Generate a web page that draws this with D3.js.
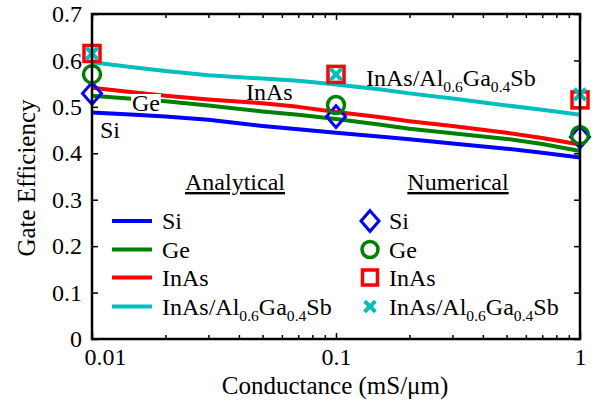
<!DOCTYPE html>
<html lang="en">
<head>
  <meta charset="UTF-8">
  <title>Gate Efficiency vs Conductance</title>
  <script src="https://d3js.org/d3.v7.min.js"></script>
  <style>
    body { margin: 0; background: #fff; }
    text { font-family: "Liberation Serif", "Times New Roman", "DejaVu Serif", serif; fill: #000; }
    .line { fill: none; stroke-width: 4px; stroke-linejoin: round; }
    .tick text { font-size: 24px; }
  </style>
</head>
<body>
  <svg width="598" height="405"></svg>

  <script>
    // analytical curves
    const conductance = [0.01, 0.015, 0.02, 0.03, 0.05, 0.07, 0.1, 0.15, 0.2, 0.3, 0.5, 0.7, 1];
    const siAnalytical   = [0.488, 0.483, 0.479, 0.472, 0.459, 0.452, 0.444, 0.436, 0.430, 0.421, 0.410, 0.401, 0.391];
    const geAnalytical   = [0.524, 0.517, 0.512, 0.503, 0.490, 0.483, 0.474, 0.462, 0.453, 0.443, 0.431, 0.420, 0.405];
    const inasAnalytical = [0.541, 0.531, 0.524, 0.516, 0.508, 0.500, 0.489, 0.478, 0.469, 0.459, 0.444, 0.433, 0.419];
    const hetAnalytical  = [0.596, 0.585, 0.577, 0.568, 0.561, 0.556, 0.548, 0.538, 0.529, 0.518, 0.503, 0.494, 0.483];

    // numerical points
    const numConductance = [0.01, 0.1, 1];
    const siNumerical   = [0.529, 0.479, 0.435];
    const geNumerical   = [0.570, 0.504, 0.439];
    const inasNumerical = [0.615, 0.570, 0.515];
    const hetNumerical  = [0.615, 0.570, 0.527];

    const xMajor = [0.01, 0.1, 1];
    const xMinor = [0.02, 0.03, 0.04, 0.05, 0.06, 0.07, 0.08, 0.09, 0.2, 0.3, 0.4, 0.5, 0.6, 0.7, 0.8, 0.9];
    const yTicks = [0, 0.1, 0.2, 0.3, 0.4, 0.5, 0.6, 0.7];

    // label parts: [text, isSubscript]
    const labels = [
      [["Si", false]],
      [["Ge", false]],
      [["InAs", false]],
      [["InAs/Al", false], ["0.6", true], ["Ga", false], ["0.4", true], ["Sb", false]]
    ];
    const colors = ["#0000ff", "#008000", "#ff0000", "#00bfbf"];
    const symbols = ["diamond", "circle", "square", "cross"];

    const svg = d3.select("svg");
    const margin = {top: 14, right: 18, bottom: 66, left: 92};
    const W = +svg.attr("width"), H = +svg.attr("height");

    const x = d3.scaleLog().domain([0.01, 1]).range([margin.left, W - margin.right]);
    const y = d3.scaleLinear().domain([0, 0.7]).range([H - margin.bottom, margin.top]);

    function addLabel(sel, parts, size) {
      parts.forEach(([t, sub]) => {
        const ts = sel.append("tspan").text(t);
        if (sub) ts.attr("font-size", size * 0.65).attr("dy", 6);
        else if (sel.selectAll("tspan").size() > 1) ts.attr("dy", -6);
      });
      return sel;
    }

    function drawMarker(g, type, cx, cy, color, s) {
      if (type === "diamond") {
        g.append("path")
          .attr("d", `M${cx},${cy - s * 1.15}L${cx + s},${cy}L${cx},${cy + s * 1.15}L${cx - s},${cy}Z`)
          .attr("fill", "none").attr("stroke", color).attr("stroke-width", 3);
      } else if (type === "circle") {
        g.append("circle").attr("cx", cx).attr("cy", cy).attr("r", s - 1)
          .attr("fill", "none").attr("stroke", color).attr("stroke-width", 3.5);
      } else if (type === "square") {
        g.append("rect").attr("x", cx - s + 1.5).attr("y", cy - s + 1.5)
          .attr("width", 2 * s - 3).attr("height", 2 * s - 3)
          .attr("fill", "none").attr("stroke", color).attr("stroke-width", 3.5);
      } else {
        const r = s * 0.6;
        g.append("path")
          .attr("d", `M${cx - r},${cy - r}L${cx + r},${cy + r}M${cx - r},${cy + r}L${cx + r},${cy - r}`)
          .attr("stroke", color).attr("stroke-width", 4);
      }
    }

    // axes (inward ticks)
    const bottom = svg.append("g").attr("transform", `translate(0,${y(0)})`)
      .call(d3.axisBottom(x).tickValues(xMajor).tickSize(-6).tickPadding(9)
        .tickFormat(d => d === 1 ? "1" : String(d)));
    bottom.selectAll(".tick text").filter(d => d === 0.01).attr("dx", 13);
    svg.append("g").attr("transform", `translate(0,${y(0)})`)
      .call(d3.axisBottom(x).tickValues(xMinor).tickSize(-4).tickFormat(""));
    svg.append("g").attr("transform", `translate(0,${y(0.7)})`)
      .call(d3.axisTop(x).tickValues(xMajor).tickSize(-6).tickFormat(""));
    svg.append("g").attr("transform", `translate(0,${y(0.7)})`)
      .call(d3.axisTop(x).tickValues(xMinor).tickSize(-4).tickFormat(""));
    svg.append("g").attr("transform", `translate(${x(0.01)},0)`)
      .call(d3.axisLeft(y).tickValues(yTicks).tickSize(-6).tickPadding(10)
        .tickFormat(d => d === 0 ? "0" : d3.format(".1f")(d)));
    svg.append("g").attr("transform", `translate(${x(1)},0)`)
      .call(d3.axisRight(y).tickValues(yTicks).tickSize(-6).tickFormat(""));
    svg.selectAll(".domain").remove();
    svg.selectAll(".tick line").attr("stroke", "#000").attr("stroke-width", 1.5);

    // analytical lines
    const analytical = [siAnalytical, geAnalytical, inasAnalytical, hetAnalytical];
    const line = d3.line().x((d, i) => x(conductance[i])).y(d => y(d));
    const plot = svg.append("g");
    analytical.forEach((vals, k) => {
      plot.append("path").attr("class", "line").attr("d", line(vals)).attr("stroke", colors[k]);
    });

    // in-plot annotations
    const ann = svg.append("g").attr("font-size", 24);
    ann.append("text").attr("x", 100).attr("y", 138).text("Si");
    const geLab = ann.append("text").attr("x", 132).attr("y", 111).text("Ge");
    const bb = geLab.node().getBBox();
    ann.insert("rect", "text:nth-of-type(2)")
      .attr("x", bb.x - 1).attr("y", bb.y + 4).attr("width", bb.width + 2).attr("height", bb.height - 8)
      .attr("fill", "#fff");
    ann.append("text").attr("x", 246).attr("y", 100).text("InAs");
    addLabel(ann.append("text").attr("x", 366).attr("y", 86), labels[3], 24);

    // numerical markers
    const numerical = [siNumerical, geNumerical, inasNumerical, hetNumerical];
    const marks = svg.append("g");
    numerical.forEach((vals, k) => {
      vals.forEach((v, i) => drawMarker(marks, symbols[k], x(numConductance[i]), y(v), colors[k], 9.5));
    });

    // frame
    svg.append("rect")
      .attr("x", x(0.01)).attr("y", y(0.7))
      .attr("width", x(1) - x(0.01)).attr("height", y(0) - y(0.7))
      .attr("fill", "none").attr("stroke", "#000").attr("stroke-width", 2.5);

    // legend
    const leg = svg.append("g").attr("font-size", 24);
    leg.append("text").attr("x", 235).attr("y", 190).attr("text-anchor", "middle")
      .attr("text-decoration", "underline").text("Analytical");
    leg.append("text").attr("x", 458).attr("y", 190).attr("text-anchor", "middle")
      .attr("text-decoration", "underline").text("Numerical");
    const rowY = [221, 249.5, 277.5, 306.5];
    labels.forEach((parts, k) => {
      leg.append("line").attr("x1", 112).attr("x2", 152).attr("y1", rowY[k]).attr("y2", rowY[k])
        .attr("stroke", colors[k]).attr("stroke-width", 4);
      addLabel(leg.append("text").attr("x", 162).attr("y", rowY[k] + 8), parts, 24);
      drawMarker(leg, symbols[k], 370, rowY[k], colors[k], 9);
      addLabel(leg.append("text").attr("x", 389).attr("y", rowY[k] + 8), parts, 24);
    });

    // axis titles
    svg.append("text").attr("x", 335).attr("y", 394).attr("text-anchor", "middle")
      .attr("font-size", 25).text("Conductance (mS/\u03bcm)");
    svg.append("text").attr("transform", "translate(35,178) rotate(-90)")
      .attr("text-anchor", "middle").attr("font-size", 25).text("Gate Efficiency");
  </script>
</body>
</html>
